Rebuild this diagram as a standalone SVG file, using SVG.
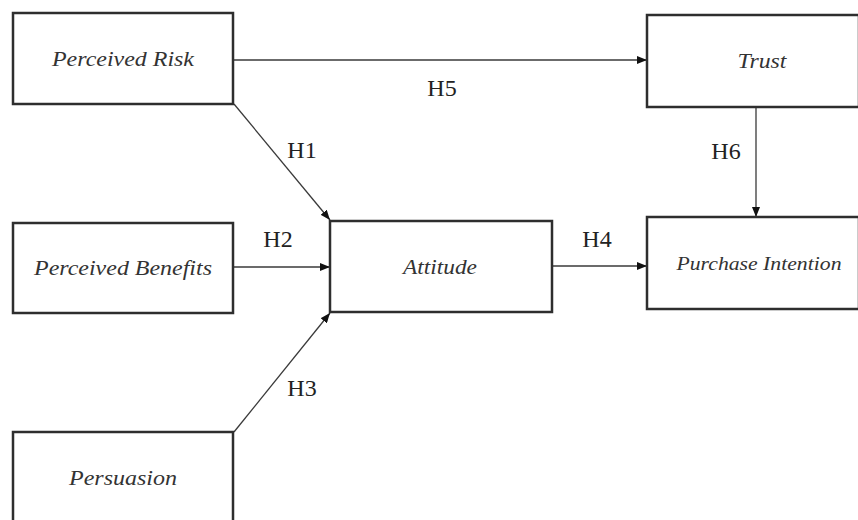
<svg xmlns="http://www.w3.org/2000/svg" width="858" height="520" viewBox="0 0 858 520">
<style>
.box{fill:#fff;stroke:#2e2e2e;stroke-width:2.5}
.lbl{font-family:"Liberation Serif",serif;font-style:italic;font-size:20px;fill:#333;text-anchor:middle}
.h{font-family:"Liberation Serif",serif;font-size:24px;fill:#222;text-anchor:middle}
.c{stroke:#3a3a3a;stroke-width:1.3;fill:none;marker-end:url(#ah)}
</style>
<defs>
<marker id="ah" markerWidth="10" markerHeight="8" refX="10" refY="4" orient="auto" markerUnits="userSpaceOnUse">
<path d="M0,0 L10,4 L0,8 z" fill="#111"/>
</marker>
</defs>
<rect width="858" height="520" fill="#fff"/>
<g id="connectors">
<line class="c" x1="234" y1="60" x2="647" y2="60"/>
<line class="c" x1="234" y1="104" x2="330" y2="220"/>
<line class="c" x1="234" y1="267" x2="330" y2="267"/>
<line class="c" x1="234" y1="432" x2="330" y2="313"/>
<line class="c" x1="553" y1="266" x2="647" y2="266"/>
<line class="c" x1="756" y1="107" x2="756" y2="217"/>
<text class="h" x="442" y="96">H5</text>
<text class="h" x="302" y="158">H1</text>
<text class="h" x="278" y="247">H2</text>
<text class="h" x="302" y="396">H3</text>
<text class="h" x="597" y="247">H4</text>
<text class="h" x="726" y="159">H6</text>
</g>
<g id="perceived-risk"><rect class="box" x="13" y="13" width="220" height="91"/><text class="lbl" x="123" y="66" textLength="142" lengthAdjust="spacingAndGlyphs">Perceived Risk</text></g>
<g id="trust"><rect class="box" x="647" y="15" width="212" height="92"/><text class="lbl" x="762" y="68" textLength="49" lengthAdjust="spacingAndGlyphs">Trust</text></g>
<g id="perceived-benefits"><rect class="box" x="13" y="223" width="220" height="90"/><text class="lbl" x="123" y="275" textLength="178" lengthAdjust="spacingAndGlyphs">Perceived Benefits</text></g>
<g id="attitude"><rect class="box" x="330" y="221" width="222" height="91"/><text class="lbl" x="440" y="274" textLength="74" lengthAdjust="spacingAndGlyphs">Attitude</text></g>
<g id="purchase-intention"><rect class="box" x="647" y="217" width="212" height="92"/><text class="lbl" x="759" y="270" style="font-size:18px" textLength="165" lengthAdjust="spacingAndGlyphs">Purchase Intention</text></g>
<g id="persuasion"><rect class="box" x="13" y="432" width="220" height="100"/><text class="lbl" x="123" y="485" textLength="108" lengthAdjust="spacingAndGlyphs">Persuasion</text></g>
</svg>
